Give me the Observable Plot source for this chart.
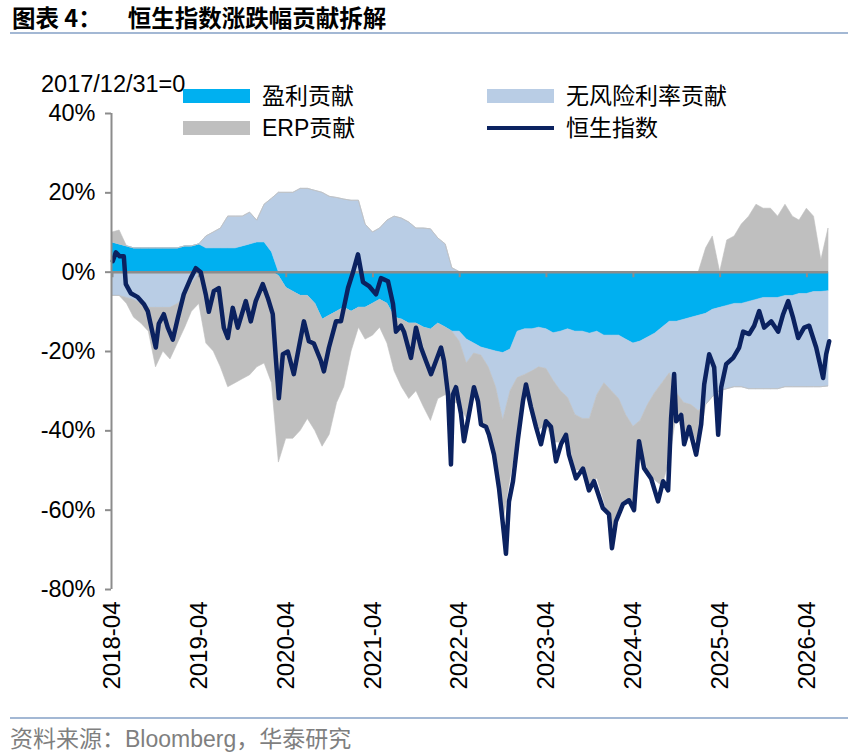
<!DOCTYPE html>
<html>
<head>
<meta charset="utf-8">
<script src="https://cdn.jsdelivr.net/npm/d3@7"></script>
<script src="https://cdn.jsdelivr.net/npm/@observablehq/plot@0.6"></script>
<style>
  html, body { margin: 0; padding: 0; background: #fff; }
  body { width: 857px; height: 754px; position: relative; overflow: hidden;
         font-family: "Liberation Sans", "Noto Sans CJK SC", sans-serif; color: #000; }
  #title { position: absolute; left: 12px; top: 0px; line-height: 34px;
           font-family: "Noto Sans CJK SC", sans-serif; font-weight: 700; font-size: 23.5px; white-space: nowrap; }
  .rule { position: absolute; left: 10px; width: 838px; height: 2px; background: #a3b8d4; }
  #chart { position: absolute; left: 0; top: 40px; }
  .lg { position: absolute; font-size: 23px; line-height: 24px; white-space: nowrap; }
  .sw { position: absolute; }
  #base { position: absolute; left: 41px; top: 72px; font-size: 23.5px; line-height: 24px; white-space: nowrap; }
  #caption { position: absolute; left: 10px; top: 726px; font-size: 23px; line-height: 26px; color: #7f7f7f; white-space: nowrap; }
</style>
</head>
<body>
<div id="title">图表 4：<span style="margin-left:26px">恒生指数涨跌幅贡献拆解</span></div>
<div class="rule" style="top:32px"></div>
<div id="chart"></div>
<div id="base">2017/12/31=0</div>
<div id="legend"></div>
<div class="rule" style="top:717px"></div>
<div id="caption">资料来源：Bloomberg，华泰研究</div>
<script>
// ---------------- data (% change since 2017/12/31) ----------------
const firstMonth = "2018-04";           // monthly series start
const seriesNames = ["盈利贡献", "无风险利率贡献", "ERP贡献", "恒生指数"];
const seriesColors = ["#00b0f0", "#b9cde5", "#bfbfbf", "#0b2260"];

// profit contribution, monthly
const profit = [
  7.5, 7, 6.5, 6, 6, 6, 6, 6, 6, 6,
  6.5, 6.5, 7, 6, 6, 6, 6, 6, 6.5, 7,
  7.5, 7.5, 5, -1, -4, -5, -6, -6, -8, -12,
  -11, -10, -9, -10, -9, -9, -8, -7, -8, -11.5,
  -12, -13, -13, -14, -14.5, -13, -14, -15, -15, -17,
  -18, -19, -19.5, -20, -20.4, -19.5, -15, -14.4, -14.4, -14,
  -14.4, -15.4, -15, -14.4, -15, -15, -15.5, -15, -16, -16,
  -16, -17, -18, -17.5, -16.5, -15.5, -14, -12.5, -12.5, -12,
  -11.5, -11, -10.5, -9.5, -9, -8.5, -8, -8, -7.5, -7,
  -6.5, -6.5, -6.5, -6, -6, -5.5, -5.5, -5, -5, -4.8
];
// risk-free rate contribution, monthly
const riskFree = [
  -6, -6, -6.5, -7, -8, -9, -9, -9, -9, -8,
  -6.5, -3, -0.5, 3, 4, 5, 8, 8, 7.5, 8,
  5.5, 9.5, 13.5, 20, 20, 20, 21, 21, 20.5, 20,
  19, 18.7, 18.3, 18, 18, 12, 10, 11, 13, 14,
  13.5, 12.5, 11, 11, 10.8, 8.5, 7, 1, -2.5, -6,
  -2.5, -2, -4.5, -9, -17, -10.5, -11.7, -11.5, -10.6, -10,
  -10, -12, -15, -17.3, -21, -22, -21.5, -16, -12, -14,
  -16, -19, -21, -20, -17, -15, -14, -13, -18, -21,
  -22, -24, -23, -22, -21, -21, -21, -21, -22, -22.5,
  -23, -23, -23, -23, -23, -23.5, -23.5, -24, -24, -24
];
// ERP contribution, monthly
const erp = [
  2.5, 3.5, -1.5, -4.5, -5, -6, -15, -11, -13, -10,
  -7.5, -7, -7.5, -18, -20, -24, -29, -28, -27, -26,
  -24, -23, -28, -47, -38, -37, -34, -31, -32, -32,
  -30, -23, -20, -10, -5, -8, -8, -7, -10, -13.5,
  -17, -19, -17, -20, -23, -19, -17, -17.5, -16, -14,
  -9.5, -17, -16, -21, -26, -22, -15, -3, -11, -16,
  -14, -15.5, -13, -10, -14, -13, -17, -21, -30, -35,
  -28, -22, -19, -6, -16.5, -22, -26, -22, -5, -9,
  -6, -9, 6, 9, 0, 8, 9, 12, 14, 17,
  16, 16, 14, 17, 14, 13, 16, 14, 3, 11
];

// Hang Seng Index, irregular points (decimal year, %)
const hsiTime = [
  2018.25, 2018.285, 2018.33, 2018.377, 2018.40, 2018.457, 2018.538, 2018.607, 2018.653, 2018.711,
  2018.746, 2018.78, 2018.838, 2018.884, 2018.942, 2018.999, 2019.068, 2019.149, 2019.207, 2019.264,
  2019.322, 2019.357, 2019.414, 2019.472, 2019.53, 2019.576, 2019.633, 2019.691, 2019.783, 2019.841,
  2019.898, 2019.979, 2020.037, 2020.094, 2020.129, 2020.164, 2020.21, 2020.267, 2020.336, 2020.394,
  2020.452, 2020.509, 2020.567, 2020.648, 2020.682, 2020.74, 2020.821, 2020.878, 2020.959, 2021.017,
  2021.074, 2021.132, 2021.201, 2021.282, 2021.339, 2021.42, 2021.478, 2021.512, 2021.57, 2021.604,
  2021.685, 2021.743, 2021.80, 2021.858, 2021.916, 2021.973, 2022.031, 2022.066, 2022.112, 2022.146,
  2022.169, 2022.204, 2022.262, 2022.296, 2022.354, 2022.411, 2022.457, 2022.492, 2022.55, 2022.584,
  2022.642, 2022.70, 2022.757, 2022.78, 2022.815, 2022.861, 2022.919, 2022.976, 2023.011, 2023.068,
  2023.126, 2023.184, 2023.241, 2023.299, 2023.357, 2023.414, 2023.472, 2023.506, 2023.587, 2023.668,
  2023.737, 2023.795, 2023.898, 2023.968, 2024.002, 2024.048, 2024.129, 2024.198, 2024.256, 2024.313,
  2024.371, 2024.452, 2024.532, 2024.59, 2024.648, 2024.682, 2024.717, 2024.74, 2024.798, 2024.832,
  2024.89, 2024.97, 2025.028, 2025.063, 2025.12, 2025.178, 2025.224, 2025.259, 2025.316, 2025.397,
  2025.466, 2025.512, 2025.581, 2025.639, 2025.697, 2025.754, 2025.835, 2025.916, 2025.973, 2026.031,
  2026.089, 2026.146, 2026.215, 2026.273, 2026.354, 2026.434, 2026.469, 2026.504
];
const hsiValue = [
  2.8, 5, 4, 4, -3, -5.3, -6.3, -8, -9.8, -15.6,
  -19, -13, -10.6, -14, -17, -11.6, -5.6, -1.5, 1, 0,
  -5.6, -10, -4.8, -4, -14, -16.6, -9, -14, -7.3, -12.4,
  -7.3, -3, -6.5, -10.6, -21.6, -31.8, -20.7, -20, -25.7, -19,
  -12.4, -17.4, -18, -22.4, -25, -19, -12.4, -12.4, -4, 0,
  4.5, -2.5, -3.5, -5.6, -1.5, -2.3, -8, -15, -13.5, -15,
  -21.6, -14, -19, -22.4, -25.7, -22.4, -19, -22.4, -30.8, -48.5,
  -30.8, -29, -35.8, -42.6, -35.8, -29, -32.5, -38.4, -39, -41,
  -46, -54.5, -66, -71, -57.8, -52.7, -41.9, -32.5, -28.3, -34,
  -39, -43.4, -37.6, -39, -47.7, -43.4, -41, -46, -52, -49.5,
  -55, -52.7, -59.5, -61, -69.6, -62.8, -58.5, -57.5, -60, -42.6,
  -49.4, -52, -57.8, -52.7, -55, -36.8, -25.7, -37.6, -36, -43.4,
  -39, -46, -38.4, -28.3, -20.7, -24, -41, -29, -23.2, -21.6,
  -19, -15, -15.6, -13.5, -9.8, -14, -12.4, -15, -10.6, -7.3,
  -11.6, -16.6, -14, -13.5, -19, -26.7, -20.7, -17.4
];

const xTickLabels = ["2018-04", "2019-04", "2020-04", "2021-04", "2022-04", "2023-04", "2024-04", "2025-04", "2026-04"];
const yTicks = [-80, -60, -40, -20, 0, 20, 40];

// ---------------- derived tables ----------------
const [fy, fm] = firstMonth.split("-").map(Number);
const monthDate = i => new Date(Date.UTC(fy, fm - 1 + i, 1));
const decToDate = t => {
  const y = Math.floor(t);
  const a = Date.UTC(y, 0, 1), b = Date.UTC(y + 1, 0, 1);
  return new Date(a + (t - y) * (b - a));
};

// split every component into positive / negative parts and stack them
const bands = {pPos: [], rPos: [], ePos: [], pNeg: [], rNeg: [], eNeg: []};
profit.forEach((p, i) => {
  const r = riskFree[i], e = erp[i], date = monthDate(i);
  const pp = Math.max(p, 0), rp = Math.max(r, 0), ep = Math.max(e, 0);
  const pn = Math.min(p, 0), rn = Math.min(r, 0), en = Math.min(e, 0);
  bands.pPos.push({date, y1: 0, y2: pp});
  bands.rPos.push({date, y1: pp, y2: pp + rp});
  bands.ePos.push({date, y1: pp + rp, y2: pp + rp + ep});
  bands.pNeg.push({date, y1: 0, y2: pn});
  bands.rNeg.push({date, y1: pn, y2: pn + rn});
  bands.eNeg.push({date, y1: pn + rn, y2: pn + rn + en});
});
const hsi = hsiTime.map((t, i) => ({date: decToDate(t), v: hsiValue[i]}));
const xTicks = xTickLabels.map(s => new Date(s + "-01T00:00:00Z"));
const xDomain = [monthDate(0), monthDate(profit.length - 1)];

const area = (rows, color) => Plot.areaY(rows, {x: "date", y1: "y1", y2: "y2", fill: color, stroke: color, strokeWidth: 0.6, curve: "linear"});

const chart = Plot.plot({
  width: 857,
  height: 670,
  marginLeft: 112,
  marginRight: 29,
  marginTop: 73,
  marginBottom: 121,
  style: {fontFamily: "Liberation Sans, Noto Sans CJK SC, sans-serif", fontSize: "23.5px", color: "#000", background: "transparent", overflow: "visible"},
  x: {type: "utc", domain: xDomain, axis: null},
  y: {domain: [-80, 40], axis: null},
  marks: [
    area(bands.pPos, seriesColors[0]),
    area(bands.rPos, seriesColors[1]),
    area(bands.ePos, seriesColors[2]),
    area(bands.pNeg, seriesColors[0]),
    area(bands.rNeg, seriesColors[1]),
    area(bands.eNeg, seriesColors[2]),
    Plot.ruleY([0], {stroke: "#8c8c8c", strokeWidth: 2.5}),
    Plot.ruleX(xTicks, {y1: 0, y2: -1.4, stroke: "#8c8c8c", strokeWidth: 2}),
    Plot.line(hsi, {x: "date", y: "v", stroke: seriesColors[3], strokeWidth: 4.5, strokeLinejoin: "round", curve: "linear"}),
    Plot.ruleX([xDomain[0]], {stroke: "#8c8c8c", strokeWidth: 2, dx: -1}),
    Plot.axisY(yTicks, {tickSize: 6, tickPadding: 10, stroke: "#8c8c8c", strokeWidth: 2, tickFormat: d => d + "%", fontSize: 23.5, dx: -1}),
    Plot.axisX(xTicks, {anchor: "bottom", tickSize: 0, tickPadding: 12, tickRotate: -90, fontSize: 24, tickFormat: d => xTickLabels[xTicks.findIndex(t => +t === +d)]})
  ]
});
document.getElementById("chart").appendChild(chart);

// legend (inside chart top area, as in the reference)
const legend = document.getElementById("legend");
const items = [
  {name: seriesNames[0], color: seriesColors[0], x: 183, y: 96, kind: "box"},
  {name: seriesNames[1], color: seriesColors[1], x: 487, y: 96, kind: "box"},
  {name: seriesNames[2], color: seriesColors[2], x: 183, y: 128, kind: "box"},
  {name: seriesNames[3], color: seriesColors[3], x: 487, y: 128, kind: "line"}
];
items.forEach(it => {
  const sw = document.createElement("div");
  sw.className = "sw";
  sw.style.left = it.x + "px";
  sw.style.width = "67px";
  sw.style.background = it.color;
  if (it.kind === "box") { sw.style.top = (it.y - 7) + "px"; sw.style.height = "14px"; }
  else { sw.style.top = (it.y - 2) + "px"; sw.style.height = "4px"; }
  legend.appendChild(sw);
  const tx = document.createElement("div");
  tx.className = "lg";
  tx.style.left = (it.x + 79) + "px";
  tx.style.top = (it.y - 12) + "px";
  tx.textContent = it.name;
  legend.appendChild(tx);
});
</script>
</body>
</html>
